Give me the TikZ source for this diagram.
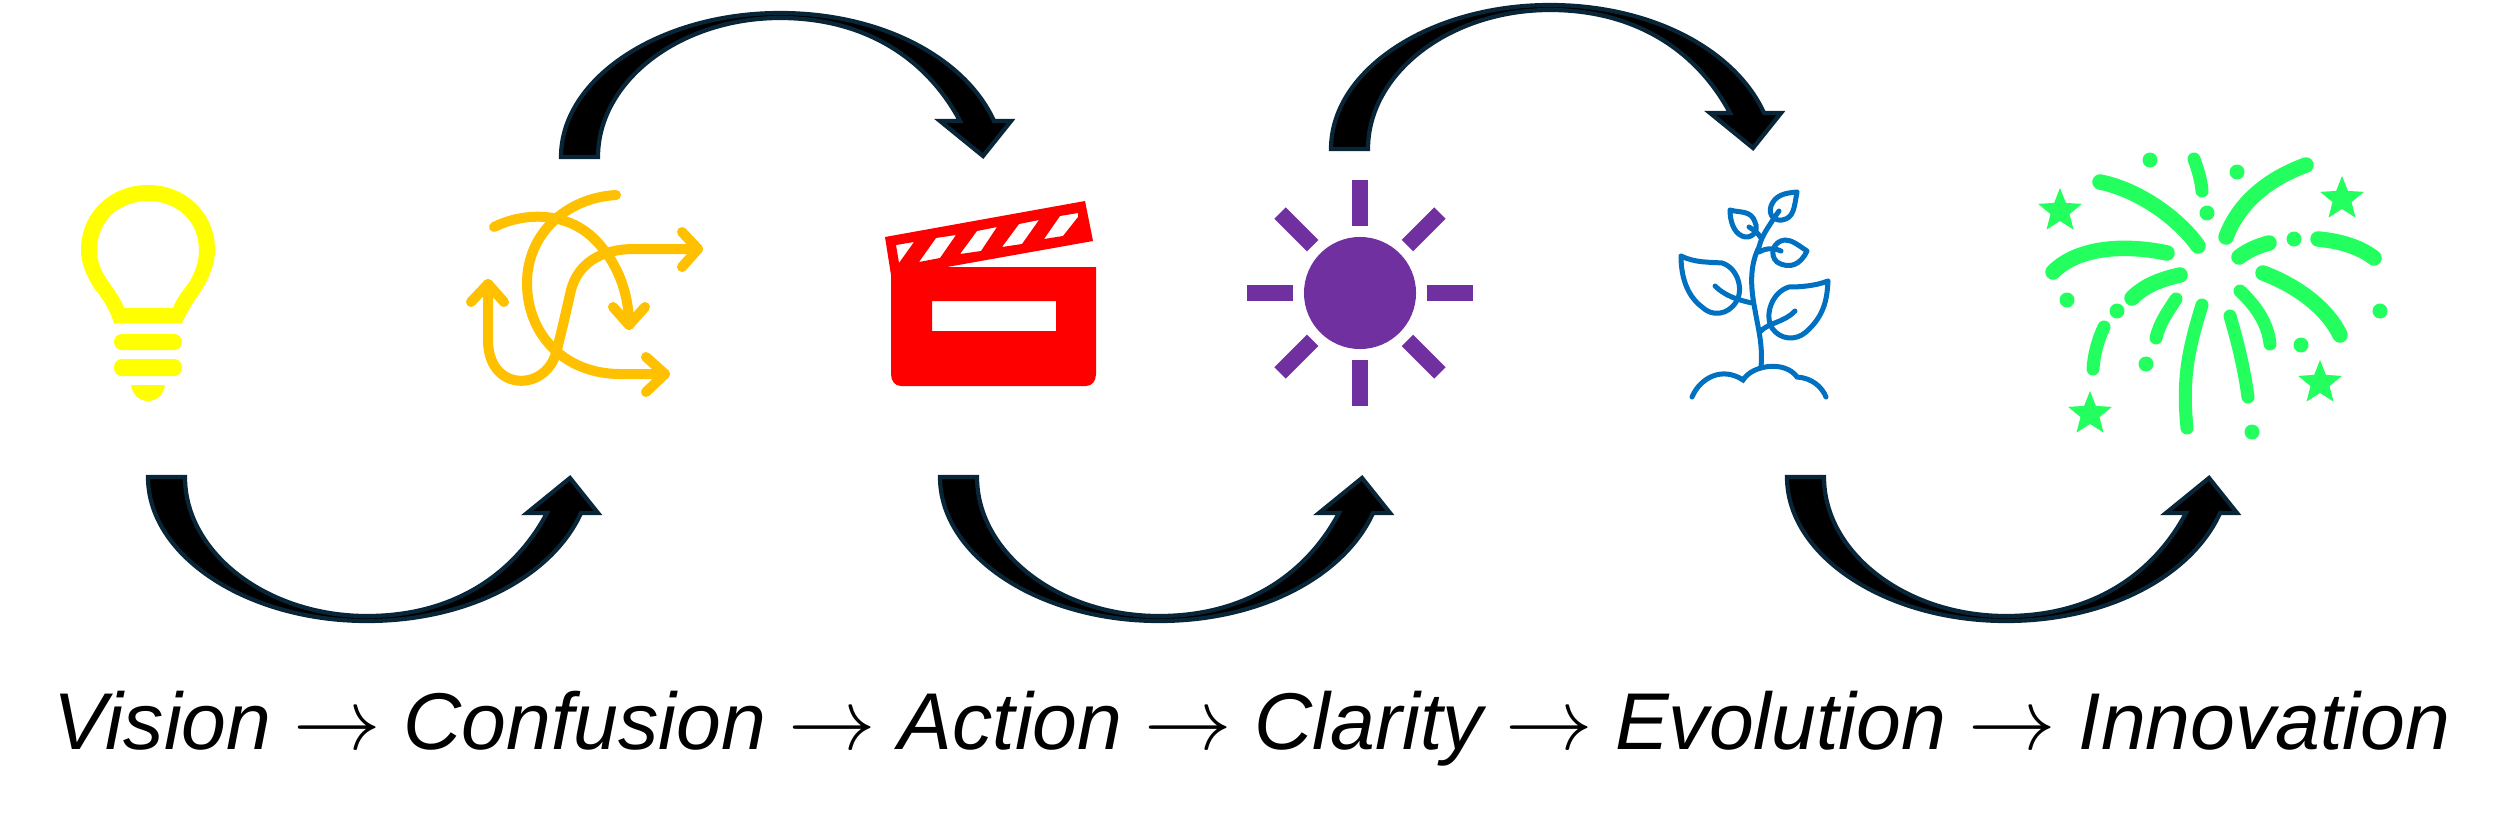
\documentclass[tikz,border=0pt]{standalone}
\usepackage{fontspec}
\setmainfont{Liberation Sans}
\usetikzlibrary{shapes.geometric}
\definecolor{edgenavy}{RGB}{8,38,56}
\definecolor{bulbyellow}{RGB}{255,255,0}
\definecolor{loopamber}{RGB}{255,192,0}
\definecolor{sunpurple}{RGB}{112,48,160}
\definecolor{plantblue}{RGB}{0,112,192}
\definecolor{burstgreen}{RGB}{34,255,95}
\tikzset{
  pics/bendarrow/.style={code={
    \draw[blockarrow] (148,477) .. controls (148,556) and (247,621) .. (367,621)
      .. controls (470,621) and (553,575) .. (581,513) -- (598,513) -- (570,478)
      -- (527,513) -- (547,513) .. controls (515,573) and (455,616) .. (367,616)
      .. controls (267,616) and (185,553) .. (185,477) -- cycle;
  }}
}
\begin{document}
\begin{tikzpicture}[
  x=0.01cm,y=-0.01cm,
  blockarrow/.style={draw=edgenavy,fill=black,line width=0.42mm},
  loopline/.style={draw=loopamber,line width=1mm,line cap=round,line join=round},
  sunray/.style={draw=sunpurple,line width=1.6mm},
  plantline/.style={draw=plantblue,line width=0.5mm,line cap=round},
  burst/.style={draw=burstgreen,line width=1.55mm,line cap=round},
  burstthin/.style={burst,line width=1.3mm},
  burststar/.style={star,star points=5,star point ratio=2.3,fill=burstgreen,
                    minimum size=4.6mm,inner sep=0pt},
  caption/.style={anchor=base,inner sep=0pt,font=\fontsize{22.9}{27}\selectfont\itshape}
]
\useasboundingbox (0,0) rectangle (2500,818);

\pic at (0,0) {bendarrow};
\pic at (792,0) {bendarrow};
\pic at (1639,0) {bendarrow};
\pic[yscale=-1] at (413,634) {bendarrow};
\pic[yscale=-1] at (1183,626) {bendarrow};

\fill[bulbyellow,even odd rule] (114,323) .. controls (109,308) and (103,299) .. (94,288)
  .. controls (86,275) and (81,263) .. (81,250) .. controls (81,213) and (110,185) .. (148,185)
  .. controls (186,185) and (215,213) .. (215,250) .. controls (215,263) and (210,277) .. (201,291)
  .. controls (194,301) and (188,310) .. (182,323) -- cycle
  (124,308) .. controls (120,297) and (114,290) .. (108,281)
  .. controls (101,271) and (97,262) .. (97,250) .. controls (97,222) and (118,201) .. (148,201)
  .. controls (178,201) and (199,222) .. (199,250) .. controls (199,262) and (195,272) .. (190,281)
  .. controls (184,290) and (177,297) .. (173,308) -- cycle;
\fill[bulbyellow,rounded corners=0.8mm] (114,334) rectangle (182,350);
\fill[bulbyellow,rounded corners=0.8mm] (114,359) rectangle (182,376);
\fill[bulbyellow] (131,385) -- (165,385) .. controls (164,394) and (157,401) .. (148,401)
  .. controls (139,401) and (132,394) .. (131,385) -- cycle;

\draw[loopline] (616,195) .. controls (565,198) and (527,235) .. (527,283)
  .. controls (527,335) and (565,374) .. (620,374) -- (665,374);
\draw[loopline] (646,357) -- (665,374) -- (646,392);
\draw[loopline] (494,227) .. controls (520,214) and (560,210) .. (590,235)
  .. controls (615,257) and (629,290) .. (629,325);
\draw[loopline] (613,307) -- (629,325) -- (645,307);
\draw[loopline] (488,284) -- (488,340) .. controls (488,392) and (545,392) .. (556,353)
  .. controls (562,330) and (566,312) .. (571,290) .. controls (578,264) and (600,249) .. (634,249) -- (698,249);
\draw[loopline] (471,302) -- (488,284) -- (504,302);
\draw[loopline] (682,232) -- (698,249) -- (682,267);

\fill[red,even odd rule] (885,237) -- (1085,201) -- (1093,241) -- (947,267) -- (1096,267)
  -- (1096,374) .. controls (1096,381) and (1092,386) .. (1086,386) -- (901,386)
  .. controls (895,386) and (891,381) .. (891,374) -- (891,275) -- cycle
  (932,301) rectangle (1056,331)
  (896,245) -- (914,242) -- (899,263) -- cycle
  (936,238) -- (956,235) -- (940,258) -- (919,262) -- cycle
  (977,231) -- (997,227) -- (981,251) -- (960,254) -- cycle
  (1019,224) -- (1039,220) -- (1022,244) -- (1002,247) -- cycle
  (1060,216) -- (1078,213) -- (1078,217) -- (1063,236) -- (1044,239) -- cycle;

\node[circle,fill=sunpurple,minimum size=11.2mm,inner sep=0pt] (sun) at (1360,293) {};
\foreach \a in {0,45,...,315}
  \draw[sunray] ([shift={(\a:67)}]sun.center) -- ([shift={(\a:113)}]sun.center);

\draw[plantline] (1692,397) .. controls (1700,378) and (1722,366) .. (1743,380)
  .. controls (1752,365) and (1785,360) .. (1797,377) .. controls (1812,378) and (1822,387) .. (1826,397);
\draw[plantline] (1761,367) .. controls (1763,345) and (1758,328) .. (1755,310)
  .. controls (1750,285) and (1750,265) .. (1759,247) .. controls (1762,235) and (1768,228) .. (1774,218);
\draw[plantline] (1681,256) .. controls (1695,263) and (1710,262) .. (1722,263)
  .. controls (1738,268) and (1744,290) .. (1736,302) .. controls (1728,315) and (1712,317) .. (1702,307)
  .. controls (1686,295) and (1681,275) .. (1681,256);
\draw[plantline] (1715,286) .. controls (1725,296) and (1738,300) .. (1752,303);
\draw[plantline] (1828,281) .. controls (1815,286) and (1800,287) .. (1789,287)
  .. controls (1772,292) and (1764,315) .. (1772,328) .. controls (1780,340) and (1796,341) .. (1806,332)
  .. controls (1824,316) and (1827,300) .. (1828,281);
\draw[plantline] (1795,311) .. controls (1785,322) and (1768,323) .. (1761,331);
\draw[plantline] (1807,251) .. controls (1798,245) and (1792,240) .. (1785,240)
  .. controls (1773,241) and (1769,255) .. (1777,262) .. controls (1790,270) and (1801,264) .. (1807,251);
\draw[plantline] (1781,251) .. controls (1772,247) and (1764,249) .. (1759,252);
\draw[plantline] (1730,210) .. controls (1740,213) and (1751,210) .. (1755,222)
  .. controls (1760,232) and (1750,240) .. (1742,236) .. controls (1733,232) and (1730,220) .. (1730,210);
\draw[plantline] (1749,227) .. controls (1754,230) and (1758,233) .. (1761,238);
\draw[plantline] (1797,192) .. controls (1785,193) and (1775,195) .. (1771,206)
  .. controls (1768,216) and (1775,221) .. (1782,220) .. controls (1794,218) and (1794,208) .. (1797,192);
\draw[plantline] (1779,211) -- (1774,218);

\draw[burst] (2100,182) .. controls (2140,190) and (2180,220) .. (2198,246);
\draw[burstthin] (2194,159) .. controls (2198,170) and (2201,180) .. (2202,191);
\draw[burst] (2306,165) .. controls (2265,180) and (2238,205) .. (2226,237);
\draw[burst] (2053,272) .. controls (2080,245) and (2130,245) .. (2167,253);
\draw[burst] (2239,257) .. controls (2248,250) and (2258,246) .. (2269,243);
\draw[burst] (2318,239) .. controls (2340,241) and (2360,247) .. (2374,258);
\draw[burst] (2132,298) .. controls (2145,285) and (2162,279) .. (2180,275);
\draw[burst] (2263,273) .. controls (2300,287) and (2328,310) .. (2340,335);
\draw[burstthin] (2176,299) .. controls (2167,313) and (2160,322) .. (2156,338);
\draw[burstthin] (2240,291) .. controls (2258,308) and (2268,325) .. (2270,344);
\draw[burstthin] (2202,305) .. controls (2188,350) and (2182,380) .. (2187,428);
\draw[burstthin] (2230,316) .. controls (2240,350) and (2245,375) .. (2248,397);
\draw[burstthin] (2104,327) .. controls (2097,342) and (2094,355) .. (2093,369);
\foreach \px/\py in {2150/160,2237/172,2207/213,2294/239,2067/300,2117/311,2380/311,2301/345,2146/364,2252/432}
  \fill[burstgreen] (\px,\py) circle (7.5);

\node[burststar] (star1) at (2060,211) {};
\node[burststar] (star2) at (2342,199) {};
\node[burststar] (star3) at (2320,383) {};
\node[burststar] (star4) at (2090,414) {};

\node[caption] (steps) at (1252,749) {Vision $\rightarrow$ Confusion $\rightarrow$ Action $\rightarrow$ Clarity $\rightarrow$ Evolution $\rightarrow$ Innovation};
\end{tikzpicture}
\end{document}
